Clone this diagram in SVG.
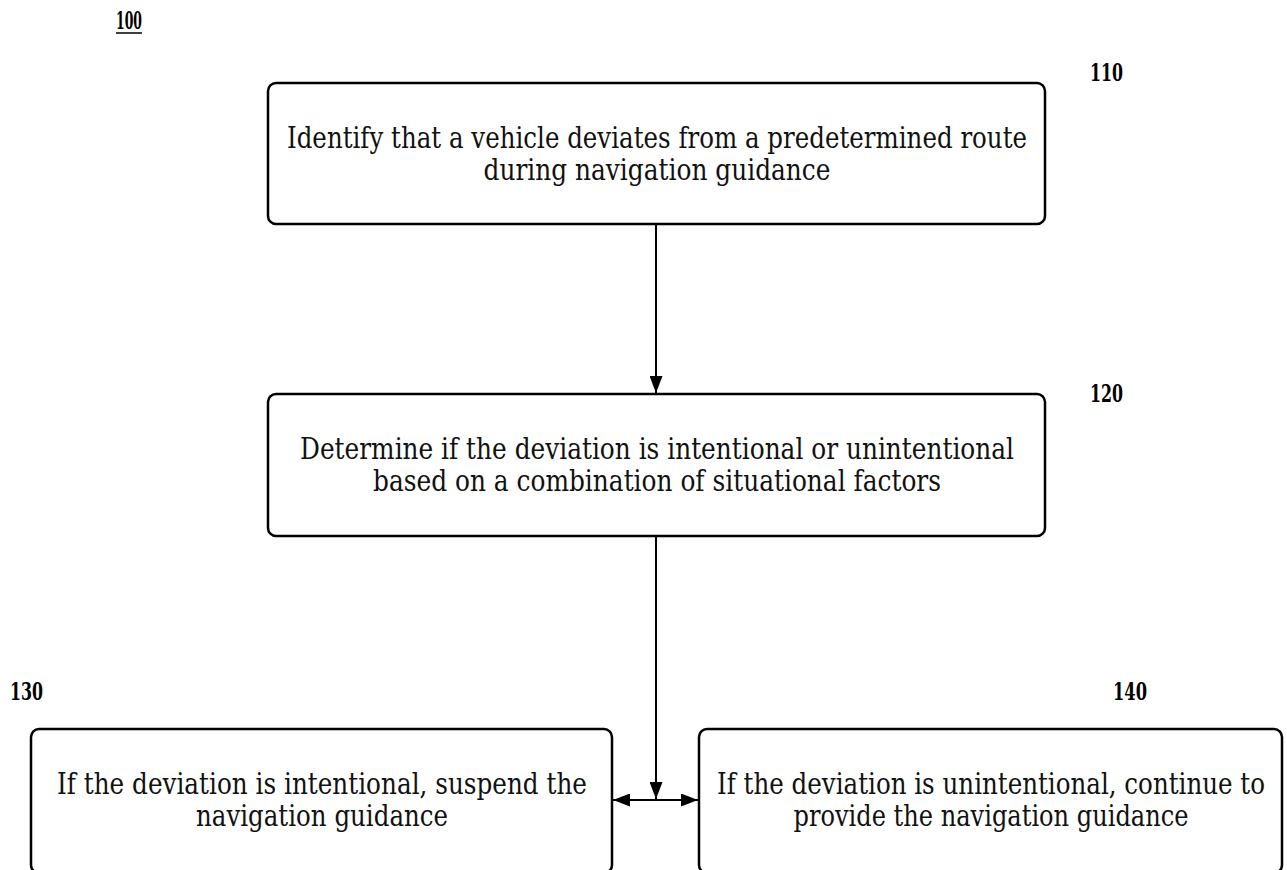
<svg xmlns="http://www.w3.org/2000/svg" width="1287" height="870" viewBox="0 0 1287 870">
<style>
.box{fill:#fff;stroke:#000;stroke-width:2.5}
.t{font-family:"DejaVu Serif","Liberation Serif",serif;font-size:29px;fill:#111;text-anchor:middle}
.lbl{font-family:"DejaVu Serif","Liberation Serif",serif;font-size:24px;font-weight:bold;fill:#000}
.c{stroke:#000;stroke-width:2;fill:none}
</style>
<defs>
<marker id="ah" markerWidth="17" markerHeight="13" refX="17" refY="6.5" orient="auto" markerUnits="userSpaceOnUse">
<path d="M0,0 L17,6.5 L0,13 Z" fill="#000"/>
</marker>
<marker id="ahs" markerWidth="17" markerHeight="13" refX="0" refY="6.5" orient="auto" markerUnits="userSpaceOnUse">
<path d="M17,0 L0,6.5 L17,13 Z" fill="#000"/>
</marker>
</defs>
<rect width="1287" height="870" fill="#fff"/>
<g id="fig-label">
<text class="lbl" x="116" y="29" textLength="26" lengthAdjust="spacingAndGlyphs">100</text>
<line x1="116" y1="33" x2="142" y2="33" stroke="#000" stroke-width="1.5"/>
</g>
<g id="node-110">
<rect class="box" x="268" y="83" width="777" height="141" rx="8"/>
<text class="t" x="657" y="148" textLength="740" lengthAdjust="spacingAndGlyphs">Identify that a vehicle deviates from a predetermined route</text>
<text class="t" x="657" y="180" textLength="347" lengthAdjust="spacingAndGlyphs">during navigation guidance</text>
<text class="lbl" x="1090" y="81" textLength="33" lengthAdjust="spacingAndGlyphs">110</text>
</g>
<g id="node-120">
<rect class="box" x="268" y="394" width="777" height="142" rx="8"/>
<text class="t" x="657" y="459" textLength="714" lengthAdjust="spacingAndGlyphs">Determine if the deviation is intentional or unintentional</text>
<text class="t" x="657" y="491" textLength="568" lengthAdjust="spacingAndGlyphs">based on a combination of situational factors</text>
<text class="lbl" x="1090" y="402" textLength="33" lengthAdjust="spacingAndGlyphs">120</text>
</g>
<g id="node-130">
<rect class="box" x="31" y="729" width="581" height="144" rx="8"/>
<text class="t" x="322" y="794" textLength="530" lengthAdjust="spacingAndGlyphs">If the deviation is intentional, suspend the</text>
<text class="t" x="322" y="826" textLength="252" lengthAdjust="spacingAndGlyphs">navigation guidance</text>
<text class="lbl" x="10" y="700" textLength="33" lengthAdjust="spacingAndGlyphs">130</text>
</g>
<g id="node-140">
<rect class="box" x="699" y="729" width="583" height="144" rx="8"/>
<text class="t" x="991" y="794" textLength="548" lengthAdjust="spacingAndGlyphs">If the deviation is unintentional, continue to</text>
<text class="t" x="991" y="826" textLength="395" lengthAdjust="spacingAndGlyphs">provide the navigation guidance</text>
<text class="lbl" x="1113" y="700" textLength="34" lengthAdjust="spacingAndGlyphs">140</text>
</g>
<g id="connectors">
<line class="c" x1="656" y1="225" x2="656" y2="393" marker-end="url(#ah)"/>
<line class="c" x1="656" y1="537" x2="656" y2="799" marker-end="url(#ah)"/>
<line class="c" x1="613" y1="800" x2="698" y2="800" marker-start="url(#ahs)" marker-end="url(#ah)"/>
</g>
</svg>
